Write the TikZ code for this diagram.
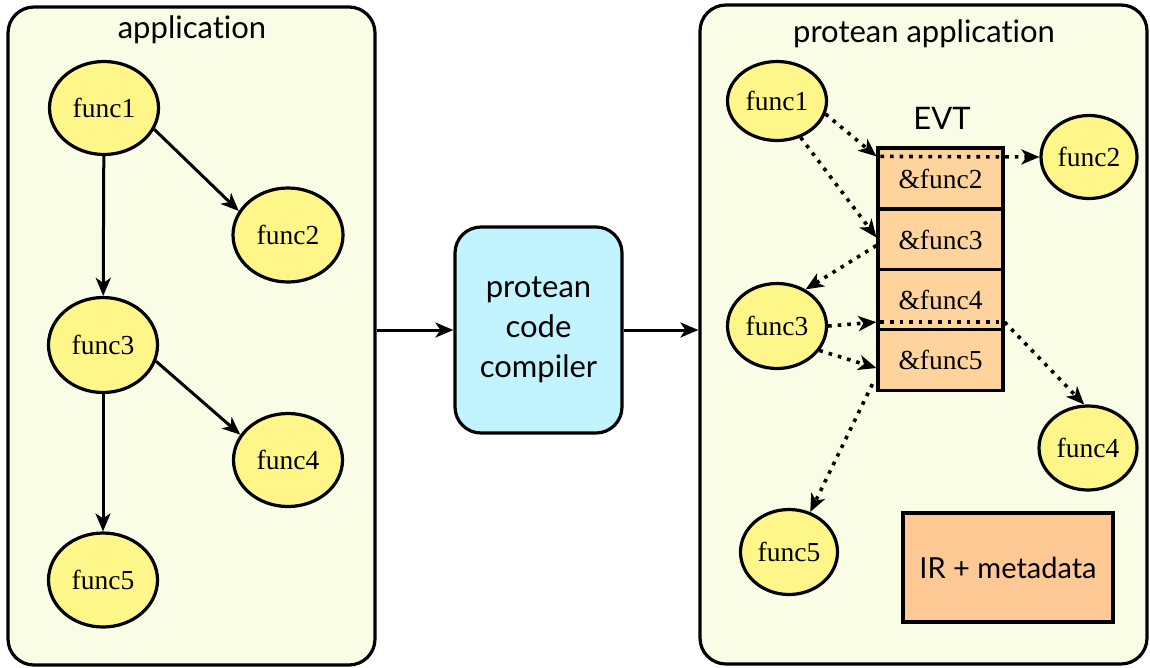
\documentclass[tikz,border=0pt]{standalone}
\usepackage{fontspec}
\setmainfont{Liberation Serif}
\newfontfamily\gill[Ligatures={NoCommon,NoRare,NoDiscretionary}]{Lato}
\usetikzlibrary{arrows.meta,shapes.geometric,calc}
\definecolor{panelfill}{HTML}{FAFDE6}
\definecolor{funcfill}{HTML}{FFF68A}
\definecolor{evtfill}{HTML}{FFD39C}
\definecolor{irfill}{HTML}{FFC996}
\definecolor{compfill}{HTML}{C2F4FF}
\begin{document}
\begin{tikzpicture}[x=1pt,y=-1pt,
  panel/.style={draw,line width=3.2pt,rounded corners=26pt,fill=panelfill},
  func/.style={ellipse,draw,line width=3.2pt,fill=funcfill,inner sep=0pt,font=\fontsize{27.5}{30}\selectfont},
  evtrow/.style={rectangle,draw,line width=3.2pt,fill=evtfill,minimum width=125pt,minimum height=61pt,inner sep=0pt,font=\fontsize{27.5}{30}\selectfont},
  sanslabel/.style={font=\gill\fontsize{31}{36}\selectfont},
  arr/.style={line width=3pt,-{Stealth[length=18pt,width=15pt,inset=5pt]}},
  dotarr/.style={line width=3.6pt,dash pattern=on 3.6pt off 6pt,-{Stealth[length=18pt,width=15pt,inset=5pt]}},
  dotline/.style={line width=3.6pt,dash pattern=on 3.6pt off 6pt}]
\useasboundingbox (0,0) rectangle (1150,667);
\fill[white] (0,0) rectangle (1150,667);

% panels
\node[panel,minimum width=367pt,minimum height=658pt] (lp) at (191.5,336) {};
\node[panel,minimum width=447pt,minimum height=659pt] (rp) at (923.5,334.5) {};
\node[sanslabel] (lt) at (192,30) {application};
\node[sanslabel] (rt) at (924,34) {protean application};

% left graph
\node[func,minimum width=109pt,minimum height=93pt] (a1) at (104,108) {func1};
\node[func,minimum width=110pt,minimum height=94pt] (a2) at (288,235) {func2};
\node[func,minimum width=109pt,minimum height=95pt] (a3) at (103,345) {func3};
\node[func,minimum width=109pt,minimum height=93pt] (a4) at (288,460) {func4};
\node[func,minimum width=109pt,minimum height=94pt] (a5) at (103,580) {func5};
\draw[arr] (a1) -- (a3);
\draw[arr] (a1.-23) -- (a2.154);
\draw[arr] (a3.-17) -- (a4.152);
\draw[arr] (a3) -- (a5);

% compiler
\node[draw,line width=3.2pt,rounded corners=26pt,fill=compfill,minimum width=167pt,minimum height=206pt,align=center,font=\gill\fontsize{31}{40}\selectfont] (cc) at (538.5,330) {protean\\code\\compiler};
\draw[arr] (lp.east |- cc.west) -- (cc.west);
\draw[arr] (cc.east) -- (rp.west |- cc.east);

% right side
\node[func,minimum width=99pt,minimum height=79pt] (b1) at (777,101) {func1};
\node[sanslabel] (evt) at (942,118) {EVT};
\node[evtrow] (r2) at (940.5,178.5) {\&func2};
\node[evtrow] (r3) at (940.5,239.5) {\&func3};
\node[evtrow] (r4) at (940.5,300) {\&func4};
\node[evtrow] (r5) at (940.5,360) {\&func5};
\node[func,minimum width=96pt,minimum height=83pt] (b2) at (1089,157) {func2};
\node[func,minimum width=99pt,minimum height=85pt] (b3) at (777,326) {func3};
\node[func,minimum width=98pt,minimum height=84pt] (b4) at (1088,448) {func4};
\node[func,minimum width=97pt,minimum height=85pt] (b5) at (789,552) {func5};
\node[draw,line width=3.2pt,fill=irfill,minimum width=210pt,minimum height=109pt,font=\gill\fontsize{29}{34}\selectfont] (ir) at (1008,567.5) {IR + metadata};

\coordinate (p2) at ($(r2.north west)+(0,10)$);
\coordinate (p4) at ($(r4.south west)+(0,-10)$);
\coordinate (q4) at ($(r4.south east)+(0,-10)$);
\draw[dotarr] (b1.-15) -- (p2);
\draw[dotarr] ($(p2)+(4,0)$) -- (b2.west);
\draw[dotarr] (b1.-57) -- ($(r3.west)+(0,-2)$);
\draw[dotarr] ($(r3.west)+(0,6)$) -- (b3.52);
\draw[dotarr] (b3.east) -- (p4);
\draw[dotline] ($(p4)+(4,0)$) -- (q4);
\draw[dotarr] (q4) -- (b4.95);
\draw[dotarr] (b3.-30) -- ($(r5.west)+(0,8)$);
\draw[dotarr] ($(r5.south west)+(-4,-8)$) -- (b5.62);
\end{tikzpicture}
\end{document}
